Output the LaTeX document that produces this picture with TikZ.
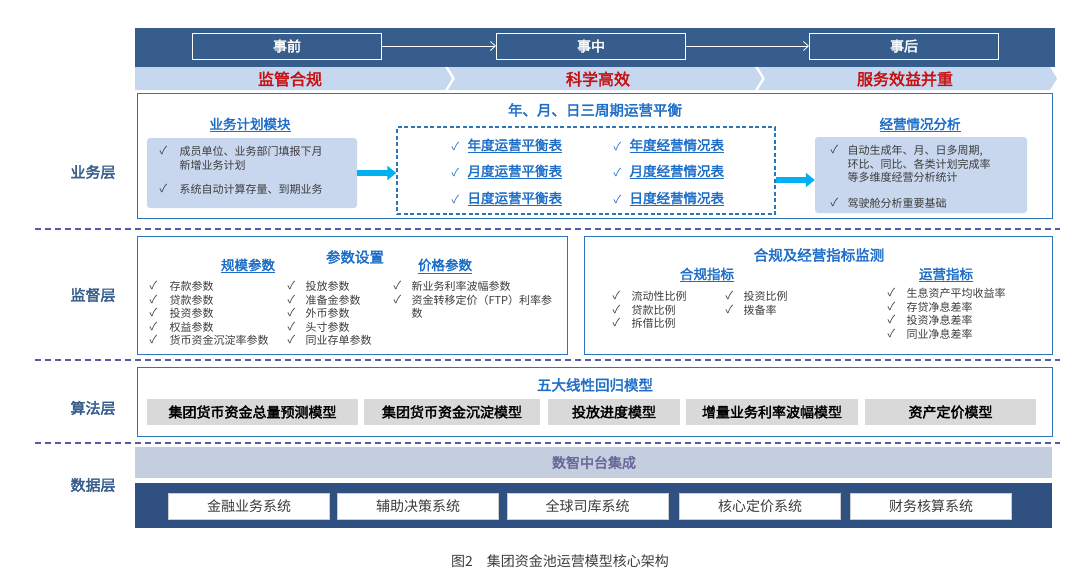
\documentclass[tikz,border=0pt]{standalone}
\usepackage{fontspec}
\setmainfont{Noto Sans CJK SC}[AutoFakeBold=2.5]
\usetikzlibrary{arrows.meta}
\definecolor{dkb}{RGB}{54,93,140}
\definecolor{ltb}{RGB}{198,216,240}
\definecolor{bdr}{RGB}{46,117,182}
\definecolor{ttl}{RGB}{30,110,200}
\definecolor{gbx}{RGB}{201,215,238}
\definecolor{txt}{RGB}{60,60,60}
\definecolor{cy}{RGB}{0,176,240}
\definecolor{hred}{RGB}{200,16,16}
\definecolor{gray1}{RGB}{217,217,217}
\definecolor{mid}{RGB}{197,206,222}
\definecolor{dat}{RGB}{47,80,128}
\tikzset{
 x=1pt,y=-1pt,
 hdr/.style={draw=white,line width=1pt,fill=dkb,minimum width=189pt,minimum height=26pt,text=white,font=\fontsize{14}{14}\selectfont\bfseries},
 red/.style={text=hred,font=\fontsize{16}{16}\selectfont\bfseries},
 lay/.style={draw=bdr,line width=1pt},
 side/.style={font=\fontsize{15}{15}\selectfont\bfseries,text=dkb},
 ttlu/.style={text=ttl,font=\fontsize{13.5}{14}\selectfont\bfseries},
 ttlb/.style={text=ttl,font=\fontsize{14.5}{15}\selectfont\bfseries},
 it/.style={text=txt,font=\fontsize{11}{13.5}\selectfont,align=left,anchor=north west},
 ck/.style={text=txt,font=\fontsize{11}{13.5}\selectfont,anchor=north west},
 sep/.style={draw=gray!70!blue,dash pattern=on 6pt off 4pt,line width=1.2pt},
 mdl/.style={fill=gray1,minimum height=26pt,font=\fontsize{14}{14}\selectfont\bfseries,text=black},
 dbx/.style={fill=white,draw=gray!40,minimum width=161pt,minimum height=26pt,font=\fontsize{14}{14}\selectfont,text=txt},
 bigarrow/.style={-{Triangle[width=14pt,length=9pt]},line width=6pt,draw=cy},
 tbl/.style={text=ttl,font=\fontsize{13.5}{14}\selectfont\bfseries,anchor=west}
}
\newcommand{\ul}[1]{\underline{#1}}
\begin{document}
\begin{tikzpicture}
\useasboundingbox (0,0) rectangle (1080,582);
% header
\fill[dkb] (135,28) rectangle (1055,67);
\node[hdr] (a) at (287,46) {事前};
\node[hdr] (b) at (591,46) {事中};
\node[hdr] (c) at (904,46) {事后};
\draw[white,line width=0.8pt,-{Straight Barb[length=5pt,width=9pt]}] (a) -- (b);
\draw[white,line width=0.8pt,-{Straight Barb[length=5pt,width=9pt]}] (b) -- (c);
\fill[ltb] (135,67) -- (445,67) -- (452,78.5) -- (445,90) -- (135,90) -- cycle;
\fill[ltb] (448,67) -- (755,67) -- (762,78.5) -- (755,90) -- (448,90) -- (455,78.5) -- cycle;
\fill[ltb] (758,67) -- (1050,67) -- (1057,78.5) -- (1050,90) -- (758,90) -- (765,78.5) -- cycle;
\node[red] (r1) at (290,79) {监管合规};
\node[red] (r2) at (598,79) {科学高效};
\node[red] (r3) at (905,79) {服务效益并重};
% separators
\draw[sep] (35,229) -- (1060,229);
\draw[sep] (35,360) -- (1060,360);
\draw[sep] (35,443) -- (1060,443);
% business layer
\node[side] (s1) at (93,172) {业务层};
\draw[lay] (137,93) rectangle (1052,218);
\node[ttlu] (t1) at (250,125) {\ul{业务计划模块}};
\node[fill=gbx,rounded corners=3pt,minimum width=210pt,minimum height=70pt] (bx1) at (252,173) {};
\node[ck] at (156,143) {✓}; \node[it] at (176,143) {成员单位、业务部门填报下月\\新增业务计划};
\node[ck] at (156,181) {✓}; \node[it] at (176,181) {系统自动计算存量、到期业务};
\node[ttlb] (t2) at (595,110) {年、月、日三周期运营平衡};
\node[draw=bdr,line width=1.4pt,dash pattern=on 4pt off 2.5pt,minimum width=378pt,minimum height=87pt] (bx2) at (586,170.5) {};
\foreach \y/\l/\r in {146/年度运营平衡表/年度经营情况表,172/月度运营平衡表/月度经营情况表,199/日度运营平衡表/日度经营情况表}{
 \node[ck,text=ttl,anchor=west] at (448,\y) {✓};
 \node[tbl] at (464,\y) {\ul{\l}};
 \node[ck,text=ttl,anchor=west] at (610,\y) {✓};
 \node[tbl] at (626,\y) {\ul{\r}};
}
\node[ttlu] (t3) at (920,125) {\ul{经营情况分析}};
\node[fill=gbx,rounded corners=3pt,minimum width=212pt,minimum height=76pt] (bx3) at (921,175) {};
\node[ck] at (827,142) {✓}; \node[it] at (844,142) {自动生成年、月、日多周期,\\环比、同比、各类计划完成率\\等多维度经营分析统计};
\node[ck] at (827,195) {✓}; \node[it] at (844,195) {驾驶舱分析重要基础};
\draw[bigarrow] (bx1.east) -- (bx2.west |- bx1.east);
\draw[bigarrow] (bx2.east |- 0,180) -- (bx3.west |- 0,180);
% supervision layer
\node[side] (s2) at (93,295) {监督层};
\draw[lay] (137,236) rectangle (567,354);
\node[ttlb] at (355,257) {参数设置};
\node[ttlu] at (248,266) {\ul{规模参数}};
\node[ttlu] at (445,266) {\ul{价格参数}};
\node[ck] at (146,278) {✓}; \node[it] at (166,278) {存款参数\\贷款参数\\投资参数\\权益参数\\货币资金沉淀率参数};
\node[ck] at (146,291.5) {✓};\node[ck] at (146,305) {✓};\node[ck] at (146,318.5) {✓};\node[ck] at (146,332) {✓};
\node[ck] at (284,278) {✓}; \node[it] at (302,278) {投放参数\\准备金参数\\外币参数\\头寸参数\\同业存单参数};
\node[ck] at (284,291.5) {✓};\node[ck] at (284,305) {✓};\node[ck] at (284,318.5) {✓};\node[ck] at (284,332) {✓};
\node[ck] at (390,278) {✓}; \node[it] at (408,278) {新业务利率波幅参数\\资金转移定价（FTP）利率参\\数};
\node[ck] at (390,291.5) {✓};
\draw[lay] (584,236) rectangle (1052,354);
\node[ttlb] at (819,255) {合规及经营指标监测};
\node[ttlu] at (707,275) {\ul{合规指标}};
\node[ttlu] at (946,275) {\ul{运营指标}};
\node[ck] at (609,288) {✓}; \node[it] at (628,288) {流动性比例\\贷款比例\\拆借比例};
\node[ck] at (609,301.5) {✓};\node[ck] at (609,315) {✓};
\node[ck] at (722,288) {✓}; \node[it] at (740,288) {投资比例\\拨备率};
\node[ck] at (722,301.5) {✓};
\node[ck] at (884,285) {✓}; \node[it] at (903,285) {生息资产平均收益率\\存贷净息差率\\投资净息差率\\同业净息差率};
\node[ck] at (884,298.5) {✓};\node[ck] at (884,312) {✓};\node[ck] at (884,325.5) {✓};
% algorithm layer
\node[side] (s3) at (93,408) {算法层};
\draw[lay] (137,367) rectangle (1052,436);
\node[ttlb] at (595,385) {五大线性回归模型};
\node[mdl,minimum width=211pt] (m1) at (252.5,412) {集团货币资金总量预测模型};
\node[mdl,minimum width=176pt] (m2) at (452,412) {集团货币资金沉淀模型};
\node[mdl,minimum width=132pt] (m3) at (614,412) {投放进度模型};
\node[mdl,minimum width=172pt] (m4) at (772,412) {增量业务利率波幅模型};
\node[mdl,minimum width=171pt] (m5) at (950.5,412) {资产定价模型};
% data layer
\node[side] (s4) at (93,485) {数据层};
\fill[mid] (135,447) rectangle (1052,478);
\node[font=\fontsize{14}{14}\selectfont\bfseries,text=gray!80!blue] at (594,462.5) {数智中台集成};
\fill[dat] (135,483) rectangle (1052,528);
\node[dbx] (d1) at (249,506) {金融业务系统};
\node[dbx] (d2) at (418,506) {辅助决策系统};
\node[dbx] (d3) at (587.5,506) {全球司库系统};
\node[dbx] (d4) at (760,506) {核心定价系统};
\node[dbx] (d5) at (931,506) {财务核算系统};
\node[font=\fontsize{14}{14}\selectfont,text=txt] at (560,561) {图2\quad 集团资金池运营模型核心架构};
\end{tikzpicture}
\end{document}
